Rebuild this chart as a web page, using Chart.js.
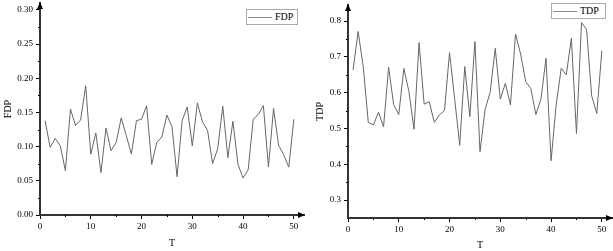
<!DOCTYPE html>
<html>
<head>
<meta charset="utf-8">
<script src="https://cdn.jsdelivr.net/npm/chart.js@4.4.0/dist/chart.umd.min.js"></script>
<style>
  body { margin: 0; background: #fff; width: 613px; height: 251px; overflow: hidden; position: relative; }
  canvas { position: absolute; top: 0; }
  #fdpChart { left: 0; }
  #tdpChart { left: 306px; }
  .legend { position: absolute; border: 1px solid #aaa; background: #fff; height: 14px;
            font-family: "Liberation Serif", serif; font-size: 10px; line-height: 14px; color: #000; }
  .legend span.swatch { position: absolute; left: 1px; top: 7px; width: 24px; height: 0; border-top: 1.5px solid #888; }
  .legend span.label { position: absolute; left: 28px; top: 0; }
</style>
</head>
<body>
<canvas id="fdpChart" width="306" height="251"></canvas>
<canvas id="tdpChart" width="307" height="251"></canvas>
<div class="legend" style="left:246px; top:9px; width:50px;"><span class="swatch"></span><span class="label">FDP</span></div>
<div class="legend" style="left:551px; top:3px; width:53px;"><span class="swatch"></span><span class="label">TDP</span></div>
<script>
document.addEventListener("DOMContentLoaded", function () {
    // T values (x axis)
    const T = [1, 2, 3, 4, 5, 6, 7, 8, 9, 10, 11, 12, 13, 14, 15, 16, 17, 18, 19, 20,
               21, 22, 23, 24, 25, 26, 27, 28, 29, 30, 31, 32, 33, 34, 35, 36, 37, 38, 39, 40,
               41, 42, 43, 44, 45, 46, 47, 48, 49, 50];

    const fdp = [0.138, 0.099, 0.112, 0.101, 0.065, 0.155, 0.131, 0.139, 0.189, 0.089,
                 0.120, 0.062, 0.127, 0.094, 0.106, 0.142, 0.116, 0.089, 0.138, 0.140,
                 0.160, 0.074, 0.106, 0.114, 0.146, 0.129, 0.056, 0.138, 0.158, 0.101,
                 0.164, 0.136, 0.124, 0.075, 0.097, 0.159, 0.084, 0.137, 0.074, 0.054,
                 0.066, 0.140, 0.147, 0.160, 0.070, 0.156, 0.102, 0.088, 0.070, 0.140];

    const tdp = [0.664, 0.771, 0.673, 0.517, 0.510, 0.545, 0.505, 0.671, 0.566, 0.539,
                 0.668, 0.603, 0.498, 0.740, 0.568, 0.575, 0.517, 0.538, 0.550, 0.712,
                 0.584, 0.453, 0.673, 0.533, 0.743, 0.435, 0.553, 0.601, 0.724, 0.582,
                 0.626, 0.566, 0.764, 0.708, 0.631, 0.612, 0.539, 0.582, 0.696, 0.410,
                 0.566, 0.668, 0.650, 0.752, 0.486, 0.796, 0.776, 0.591, 0.542, 0.717];

    const xMajor = [0, 10, 20, 30, 40, 50];
    const xMinor = [5, 15, 25, 35, 45];
    const fdpMajor = [0, 0.05, 0.10, 0.15, 0.20, 0.25, 0.30];
    const fdpMinor = [0.025, 0.075, 0.125, 0.175, 0.225, 0.275];
    const tdpMajor = [0.3, 0.4, 0.5, 0.6, 0.7, 0.8];
    const tdpMinor = [0.35, 0.45, 0.55, 0.65, 0.75];

    const serif = "'Liberation Serif', 'Times New Roman', serif";

    // arrows at axis ends + small minor ticks
    const axisDecor = {
        id: "axisDecor",
        afterDraw(chart, args, opts) {
            const ctx = chart.ctx;
            const a = chart.chartArea;
            const x = chart.scales.x, y = chart.scales.y;
            ctx.save();
            ctx.strokeStyle = "#000";
            ctx.fillStyle = "#000";
            ctx.lineWidth = 1;
            opts.xMinor.forEach(v => {
                const px = Math.round(x.getPixelForValue(v)) + 0.5;
                ctx.beginPath(); ctx.moveTo(px, a.bottom); ctx.lineTo(px, a.bottom + 2); ctx.stroke();
            });
            opts.yMinor.forEach(v => {
                const py = Math.round(y.getPixelForValue(v)) + 0.5;
                ctx.beginPath(); ctx.moveTo(a.left - 2, py); ctx.lineTo(a.left, py); ctx.stroke();
            });
            // x arrow
            ctx.beginPath();
            ctx.moveTo(a.right + 1, a.bottom);
            ctx.lineTo(a.right - 6, a.bottom - 3);
            ctx.lineTo(a.right - 6, a.bottom + 3);
            ctx.closePath(); ctx.fill();
            // y arrow
            ctx.beginPath();
            ctx.moveTo(a.left, a.top - 1);
            ctx.lineTo(a.left - 3, a.top + 6);
            ctx.lineTo(a.left + 3, a.top + 6);
            ctx.closePath(); ctx.fill();
            ctx.restore();
        }
    };

    function keepTicks(list) {
        return function (scale) {
            scale.ticks = list.map(v => ({ value: v }));
        };
    }

    function createChart(id, label, values, cfg) {
        return new Chart(document.getElementById(id).getContext("2d"), {
            type: "line",
            data: {
                datasets: [{
                    label: label,
                    data: T.map((t, i) => ({ x: t, y: values[i] })),
                    borderColor: "#666",
                    borderWidth: 1,
                    pointRadius: 0,
                    tension: 0,
                    fill: false
                }]
            },
            options: {
                responsive: false,
                animation: false,
                layout: { padding: { top: cfg.padTop, right: cfg.padRight, left: 0, bottom: 0 } },
                plugins: {
                    legend: { display: false },
                    tooltip: { enabled: false },
                    axisDecor: { xMinor: xMinor, yMinor: cfg.yMinor }
                },
                scales: {
                    x: {
                        type: "linear",
                        min: 0,
                        max: 52,
                        afterBuildTicks: keepTicks(xMajor),
                        afterFit: function (scale) {
                            scale.height = cfg.xHeight;
                            scale.paddingLeft = 0;
                            scale.paddingRight = 0;
                        },
                        grid: { drawOnChartArea: false, drawTicks: true, tickLength: 4, color: "#000", lineWidth: 1 },
                        border: { display: true, color: "#333", width: 2 },
                        ticks: {
                            padding: 2,
                            color: "#000",
                            font: { family: serif, size: 9 },
                            maxRotation: 0,
                            callback: v => String(v)
                        },
                        title: {
                            display: true,
                            text: "T",
                            color: "#000",
                            font: { family: serif, size: 10 },
                            padding: { top: 0, bottom: cfg.xTitlePad }
                        }
                    },
                    y: {
                        type: "linear",
                        min: cfg.yMin,
                        max: cfg.yMax,
                        afterBuildTicks: keepTicks(cfg.yMajor),
                        afterFit: function (scale) {
                            scale.width = cfg.yWidth;
                            scale.paddingTop = 0;
                            scale.paddingBottom = 0;
                        },
                        grid: { drawOnChartArea: false, drawTicks: true, tickLength: 4, color: "#000", lineWidth: 1 },
                        border: { display: true, color: "#333", width: 2 },
                        ticks: {
                            padding: 3,
                            color: "#000",
                            font: { family: serif, size: 9 },
                            callback: v => v.toFixed(cfg.decimals)
                        },
                        title: {
                            display: true,
                            text: label,
                            color: "#000",
                            font: { family: serif, size: 10 },
                            padding: { top: cfg.yTitlePad, bottom: 0 }
                        }
                    }
                }
            },
            plugins: [axisDecor]
        });
    }

    createChart("fdpChart", "FDP", fdp, {
        yMin: 0, yMax: 0.31, yMajor: fdpMajor, yMinor: fdpMinor, decimals: 2,
        padTop: 3, padRight: 2, xHeight: 36, yWidth: 40, xTitlePad: 2, yTitlePad: 2
    });

    createChart("tdpChart", "TDP", tdp, {
        yMin: 0.25, yMax: 0.845, yMajor: tdpMajor, yMinor: tdpMinor, decimals: 1,
        padTop: 5, padRight: 1, xHeight: 33, yWidth: 42, xTitlePad: 0, yTitlePad: 8
    });
});
</script>
</body>
</html>
